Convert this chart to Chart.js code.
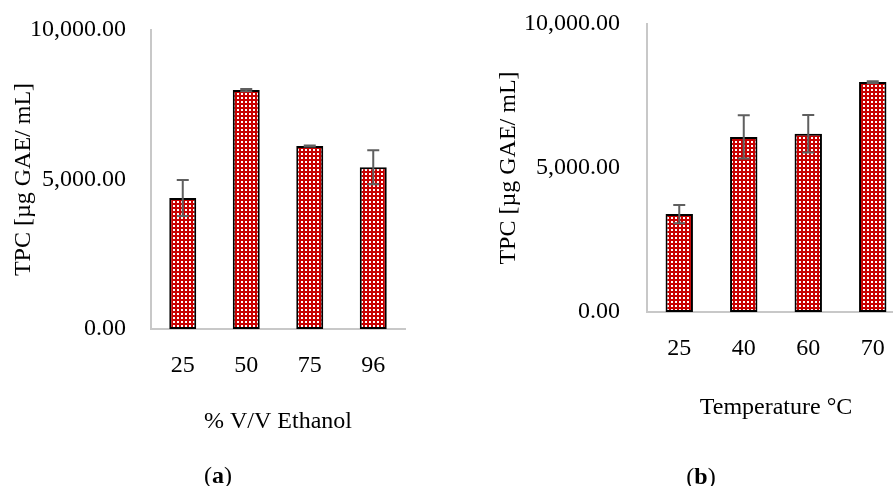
<!DOCTYPE html>
<html>
<head>
<meta charset="utf-8">
<script src="https://cdn.jsdelivr.net/npm/chart.js@4"></script>
<style>
  html, body { margin: 0; padding: 0; background: #fff; overflow: hidden; width: 893px; height: 486px; }
  .wrap { position: absolute; top: 0; }
  .cap { position: absolute; font-family: 'Liberation Serif', serif; font-size: 24px; color: #000; transform: translate(-50%, -50%); white-space: nowrap; }
</style>
</head>
<body>
<div class="wrap" style="left:0px"><canvas id="chartA" width="440" height="486"></canvas></div>
<div class="wrap" style="left:450px"><canvas id="chartB" width="460" height="486"></canvas></div>
<div class="cap" style="left:218px; top:475px">(<b>a</b>)</div>
<div class="cap" style="left:701px; top:476px">(<b>b</b>)</div>
<script>
// (a) ethanol concentration
const ethanolLabels = ['25', '50', '75', '96'];
const ethanolTpc = [4380, 7990, 6120, 5410];
const ethanolErr = [600, 40, 20, 570];

// (b) temperature
const tempLabels = ['25', '40', '60', '70'];
const tempTpc = [3400, 6080, 6190, 7985];
const tempErr = [315, 750, 650, 30];

const yTicks = [0, 5000, 10000];

Chart.defaults.font.family = "'Liberation Serif', serif";
Chart.defaults.font.size = 24;
Chart.defaults.color = '#000';

function dotPattern() {
    const c = document.createElement('canvas');
    c.width = 4; c.height = 4;
    const g = c.getContext('2d');
    g.fillStyle = '#c80000';
    g.fillRect(0, 0, 4, 4);
    g.fillStyle = '#ffffff';
    g.fillRect(1, 1, 2, 2);
    return g.createPattern(c, 'repeat');
}

// draws +/- error whiskers on top of every bar
const errorBars = {
    id: 'errorBars',
    afterDatasetsDraw(chart) {
        const ctx = chart.ctx;
        const y = chart.scales.y;
        chart.data.datasets.forEach((ds, i) => {
            const meta = chart.getDatasetMeta(i);
            meta.data.forEach((bar, j) => {
                const v = ds.data[j], e = ds.errors[j];
                const top = y.getPixelForValue(v + e);
                const bot = y.getPixelForValue(v - e);
                ctx.save();
                ctx.strokeStyle = '#5f5f5f';
                ctx.lineWidth = 2;
                ctx.beginPath();
                ctx.moveTo(bar.x, top); ctx.lineTo(bar.x, bot);
                ctx.moveTo(bar.x - 6, top); ctx.lineTo(bar.x + 6, top);
                ctx.moveTo(bar.x - 6, bot); ctx.lineTo(bar.x + 6, bot);
                ctx.stroke();
                ctx.restore();
            });
        });
    }
};

function makeChart(id, labels, values, errs, xTitle, opt) {
    const ctx = document.getElementById(id).getContext('2d');
    return new Chart(ctx, {
        type: 'bar',
        data: {
            labels: labels,
            datasets: [{
                data: values,
                errors: errs,
                backgroundColor: dotPattern(),
                borderColor: '#000',
                borderWidth: 2,
                borderSkipped: false,
                barPercentage: 0.425,
                categoryPercentage: 1
            }]
        },
        options: {
            responsive: false,
            animation: false,
            layout: { padding: opt.padding },
            plugins: { legend: { display: false }, tooltip: { enabled: false } },
            scales: {
                x: {
                    afterFit: s => { s.height = opt.xHeight; },
                    grid: { display: false, drawTicks: false },
                    border: { display: true, color: '#c8c8c8', width: 2 },
                    ticks: { padding: 22 },
                    title: { display: true, text: xTitle, padding: 0 }
                },
                y: {
                    min: 0,
                    max: 10000,
                    afterBuildTicks: s => { s.ticks = yTicks.map(v => ({ value: v })); },
                    afterFit: s => { s.width = opt.yWidth; s.paddingTop = 0; s.paddingBottom = 0; },
                    grid: { display: false, drawTicks: false },
                    border: { display: true, color: '#c8c8c8', width: 2 },
                    ticks: {
                        padding: opt.tickPad,
                        callback: v => v.toLocaleString('en-US', { minimumFractionDigits: 2, maximumFractionDigits: 2 })
                    },
                    title: { display: true, text: 'TPC [µg GAE/ mL]', padding: { top: opt.yTitleTop, bottom: 0 } }
                }
            }
        },
        plugins: [errorBars]
    });
}

makeChart('chartA', ethanolLabels, ethanolTpc, ethanolErr, '% V/V Ethanol', {
    padding: { left: 0, top: 30, right: 35, bottom: 49.6 },
    xHeight: 107.4, yWidth: 151, tickPad: 25, yTitleTop: 9
});

makeChart('chartB', tempLabels, tempTpc, tempErr, 'Temperature °C', {
    padding: { left: 0, top: 24, right: 5, bottom: 63.6 },
    xHeight: 110.4, yWidth: 197, tickPad: 27, yTitleTop: 44
});
</script>
</body>
</html>
